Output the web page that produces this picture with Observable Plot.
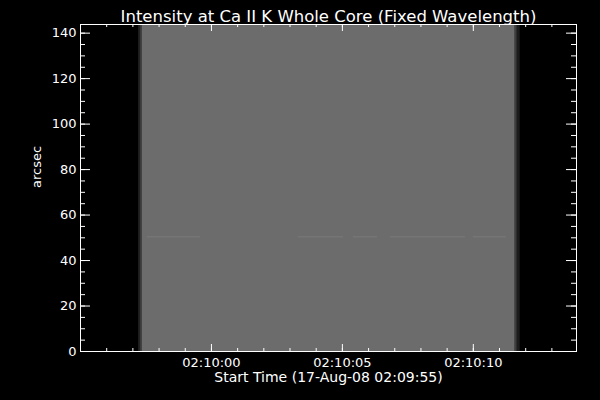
<!DOCTYPE html>
<html>
<head>
<meta charset="utf-8">
<script src="https://cdn.jsdelivr.net/npm/d3@7"></script>
<script src="https://cdn.jsdelivr.net/npm/@observablehq/plot@0.6"></script>
<style>
  html, body { margin: 0; padding: 0; background: #000; }
</style>
</head>
<body>
<div id="chart"></div>
<script>
// ---- data ----
const titleText = ["Intensity at Ca II K Whole Core (Fixed Wavelength)"];
const xTitle = ["Start Time (17-Aug-08 02:09:55)"];
const yTitle = ["arcsec"];
const startTime = "2008-08-17T02:09:55Z";
const endTime = "2008-08-17T02:10:13.94Z";
const xMajorLabels = ["02:10:00", "02:10:05", "02:10:10"];
const yMajorTicks = [0, 20, 40, 60, 80, 100, 120, 140];
const yDomain = [0, 143.8];

// image columns (seconds after start) and their intensity (0..1)
const colStartSec = [2.22, 2.29, 2.35, 16.60, 16.68];
const colEndSec   = [2.29, 2.35, 16.60, 16.68, 16.79];
const colIntensity = [0.13, 0.23, 0.424, 0.245, 0.11];
const slitBottom = 0;
const slitTop = 143.8;

// faint bright streak segments along the slit
const streakStartSec = [2.56, 8.32, 10.42, 11.83, 15.0];
const streakEndSec   = [4.58, 10.04, 11.34, 14.69, 16.26];
const streakIntensity = [0.48, 0.48, 0.48, 0.48, 0.48];
const streakY1 = 50.0;
const streakY2 = 50.45;

// ---- build ----
const t0 = new Date(startTime);
const t1 = new Date(endTime);
const sec = s => new Date(t0.getTime() + s * 1000);
const day = "2008-08-17T";
const xMajor = xMajorLabels.map(l => new Date(day + l + "Z"));
const xMinor = d3.utcSecond.range(t0, t1);
const yMinor = d3.range(0, yDomain[1], 5);

const cols = colStartSec.map((s, i) => ({x1: sec(s), x2: sec(colEndSec[i]), v: colIntensity[i], y1: slitBottom, y2: slitTop}));
const streaks = streakStartSec.map((s, i) => ({x1: sec(s), x2: sec(streakEndSec[i]), v: streakIntensity[i], y1: streakY1, y2: streakY2}));

const W = 600, H = 400, ML = 80, MR = 24, MT = 24, MB = 49;
const innerW = W - ML - MR, innerH = H - MT - MB;
const font = "DejaVu Sans";

const plot = Plot.plot({
  width: W, height: H,
  marginLeft: ML, marginRight: MR, marginTop: MT, marginBottom: MB,
  style: {background: "#000", color: "#fff", fontFamily: font},
  x: {type: "utc", domain: [t0, t1], axis: null},
  y: {domain: yDomain, axis: null},
  color: {type: "linear", domain: [0, 1], range: ["#000000", "#ffffff"]},
  marks: [
    Plot.rect(cols, {x1: "x1", x2: "x2", y1: "y1", y2: "y2", fill: "v"}),
    Plot.rect(streaks, {x1: "x1", x2: "x2", y1: "y1", y2: "y2", fill: "v"}),
    // inward ticks
    Plot.ruleX(xMajor, {x: d => d, stroke: "#fff", insetTop: innerH - 7}),
    Plot.ruleX(xMinor, {x: d => d, stroke: "#fff", insetTop: innerH - 3}),
    Plot.ruleX(xMajor, {x: d => d, stroke: "#fff", insetBottom: innerH - 7}),
    Plot.ruleX(xMinor, {x: d => d, stroke: "#fff", insetBottom: innerH - 3}),
    Plot.ruleY(yMajorTicks, {y: d => d, stroke: "#fff", insetRight: innerW - 10}),
    Plot.ruleY(yMinor, {y: d => d, stroke: "#fff", insetRight: innerW - 5}),
    Plot.ruleY(yMajorTicks, {y: d => d, stroke: "#fff", insetLeft: innerW - 10}),
    Plot.ruleY(yMinor, {y: d => d, stroke: "#fff", insetLeft: innerW - 5}),
    Plot.frame({stroke: "#fff"}),
    // tick labels
    Plot.axisX(xMajor, {anchor: "bottom", tickSize: 0, tickPadding: 6, fontSize: 13, fill: "#fff",
      tickFormat: d3.utcFormat("%H:%M:%S"), label: null}),
    Plot.axisY(yMajorTicks, {anchor: "left", tickSize: 0, tickPadding: 4, fontSize: 13, fill: "#fff", label: null}),
    // titles
    Plot.text(titleText, {frameAnchor: "top", dy: -14, fontSize: 16.5, fill: "#fff"}),
    Plot.text(xTitle, {frameAnchor: "bottom", dy: 30, fontSize: 14, fill: "#fff"}),
    Plot.text(yTitle, {frameAnchor: "left", dx: -44, rotate: -90, fontSize: 13, fill: "#fff"})
  ]
});
document.getElementById("chart").appendChild(plot);
</script>
</body>
</html>
